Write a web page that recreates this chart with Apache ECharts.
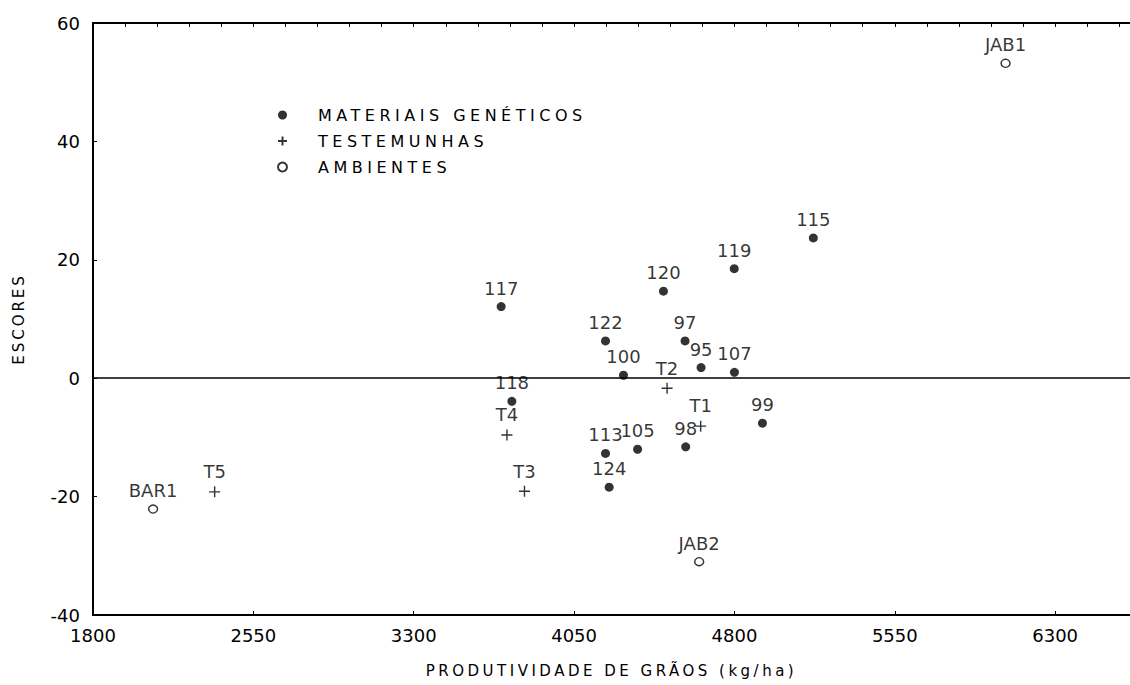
<!DOCTYPE html>
<html>
<head>
<meta charset="utf-8">
<title>Escores x produtividade de grãos</title>
<script src="https://cdn.jsdelivr.net/npm/echarts@6/dist/echarts.min.js"></script>
<style>
    html, body { margin: 0; padding: 0; background: #fff; }
    #scatter_scores { width: 1130px; height: 685px; }
</style>
</head>
<body>
<div id="scatter_scores"></div>
<script>

// Chart data
// ------------------------------

// Materiais genéticos (filled dots)
var genLabels = ['117', '120', '122', '97', '100', '95', '107', '118', '99', '113', '105', '98', '124', '115', '119'];
var genX = [3709, 4468, 4197, 4569, 4281, 4644, 4800, 3759, 4931, 4197, 4347, 4572, 4214, 5169, 4799];
var genY = [12.1, 14.7, 6.3, 6.3, 0.5, 1.8, 1.0, -3.9, -7.6, -12.7, -12.0, -11.6, -18.4, 23.7, 18.5];

// Testemunhas (plus marks)
var testLabels = ['T1', 'T2', 'T3', 'T4', 'T5'];
var testX = [4642, 4485, 3818, 3736, 2369];
var testY = [-8.1, -1.7, -19.1, -9.6, -19.2];

// Ambientes (open circles)
var envLabels = ['BAR1', 'JAB1', 'JAB2'];
var envX = [2081, 6068, 4635];
var envY = [-22.1, 53.2, -31.0];

// Axis ranges
var xRange = [1800, 6650];
var yRange = [-40, 60];

var seriesNames = ['MATERIAIS GENÉTICOS', 'TESTEMUNHAS', 'AMBIENTES'];


// Setup module
// ------------------------------

var EchartsScoresScatter = function() {

    var FONT = '"DejaVu Sans", Arial, sans-serif';
    var INK = '#000';

    // zip x, y and label into scatter points
    var toPoints = function(xs, ys, names) {
        return xs.map(function(x, i) {
            return { name: names[i], value: [x, ys[i]] };
        });
    };

    // plain numbers, no thousands separator
    var plainNumber = function(v) {
        return String(v);
    };

    var pointLabel = {
        show: true,
        position: 'top',
        distance: 5,
        color: INK,
        fontFamily: FONT,
        fontSize: 18,
        formatter: '{b}'
    };

    // wide letter spacing for legend and axis names (svg renderer)
    var spacedTexts = {
        'MATERIAIS GENÉTICOS': '4.5px',
        'TESTEMUNHAS': '4.5px',
        'AMBIENTES': '4.5px',
        'PRODUTIVIDADE DE GRÃOS (kg/ha)': '3.5px',
        'ESCORES': '3px'
    };

    var _scoresScatter = function() {
        if (typeof echarts == 'undefined') {
            console.warn('Warning - echarts.min.js is not loaded.');
            return;
        }

        var scatter_element = document.getElementById('scatter_scores');
        if (!scatter_element) return;

        var scatter_chart = echarts.init(scatter_element, null, { renderer: 'svg' });

        scatter_chart.setOption({
            animation: false,
            backgroundColor: '#fff',

            textStyle: {
                fontFamily: FONT,
                color: INK
            },

            grid: {
                left: 93,
                right: 0,
                top: 23,
                bottom: 70,
                containLabel: false
            },

            legend: {
                data: seriesNames,
                orient: 'vertical',
                left: 272,
                top: 102,
                itemWidth: 9,
                itemHeight: 9,
                itemGap: 10,
                selectedMode: false,
                textStyle: {
                    color: INK,
                    fontFamily: FONT,
                    fontSize: 16,
                    padding: [0, 0, 0, 26]
                }
            },

            // Horizontal axes
            xAxis: [
                {
                    type: 'value',
                    position: 'bottom',
                    min: xRange[0],
                    max: xRange[1],
                    interval: 750,
                    name: 'PRODUTIVIDADE DE GRÃOS (kg/ha)',
                    nameLocation: 'middle',
                    nameGap: 48,
                    nameTextStyle: {
                        color: INK,
                        fontFamily: FONT,
                        fontSize: 15
                    },
                    axisLine: { show: true, onZero: false, lineStyle: { color: '#000', width: 2 } },
                    axisTick: { show: true, inside: true, length: 4, lineStyle: { color: '#000' } },
                    axisLabel: {
                        color: INK,
                        fontFamily: FONT,
                        fontSize: 18,
                        margin: 11,
                        showMaxLabel: false,
                        formatter: plainNumber
                    },
                    splitLine: { show: false }
                },
                {
                    type: 'value',
                    position: 'top',
                    min: xRange[0],
                    max: xRange[1],
                    interval: 150,
                    axisLine: { show: true, onZero: false, lineStyle: { color: '#000', width: 2 } },
                    axisTick: { show: true, inside: true, length: 4, lineStyle: { color: '#000' } },
                    axisLabel: { show: false },
                    splitLine: { show: false }
                }
            ],

            // Vertical axis
            yAxis: [{
                type: 'value',
                min: yRange[0],
                max: yRange[1],
                interval: 20,
                name: 'ESCORES',
                nameLocation: 'middle',
                nameGap: 67,
                nameTextStyle: {
                    color: INK,
                    fontFamily: FONT,
                    fontSize: 15
                },
                axisLine: { show: true, onZero: false, lineStyle: { color: '#000', width: 2 } },
                axisTick: { show: true, inside: true, length: 4, lineStyle: { color: '#000' } },
                axisLabel: {
                    color: INK,
                    fontFamily: FONT,
                    fontSize: 18,
                    margin: 13,
                    formatter: plainNumber
                },
                splitLine: { show: false }
            }],

            // Add series
            series: [
                {
                    name: seriesNames[0],
                    type: 'scatter',
                    z: 2,
                    symbol: 'circle',
                    symbolSize: 9,
                    itemStyle: { color: '#000' },
                    label: pointLabel,
                    data: toPoints(genX, genY, genLabels),
                    markLine: {
                        silent: true,
                        symbol: ['none', 'none'],
                        label: { show: false },
                        lineStyle: { color: '#000', width: 1.5, type: 'solid' },
                        data: [{ yAxis: 0 }]
                    }
                },
                {
                    name: seriesNames[1],
                    type: 'scatter',
                    z: 3,
                    symbol: 'path://M0,5L10,5M5,0L5,10',
                    symbolSize: 11,
                    itemStyle: { color: '#000', borderColor: '#000', borderWidth: 1.4 },
                    label: pointLabel,
                    data: toPoints(testX, testY, testLabels)
                },
                {
                    name: seriesNames[2],
                    type: 'scatter',
                    z: 2,
                    symbol: 'circle',
                    symbolSize: [9, 8],
                    itemStyle: { color: '#fff', borderColor: '#000', borderWidth: 1.4 },
                    label: pointLabel,
                    data: toPoints(envX, envY, envLabels)
                }
            ]
        });

        // spread letters the way the original print does
        var applySpacing = function() {
            var texts = scatter_element.querySelectorAll('text');
            texts.forEach(function(t) {
                var s = spacedTexts[t.textContent];
                if (s) t.style.letterSpacing = s;
            });
        };
        scatter_chart.on('finished', applySpacing);
        applySpacing();
        setTimeout(applySpacing, 50);
    };

    return {
        init: function() {
            _scoresScatter();
        }
    };
}();


// Initialize module
// ------------------------------

document.addEventListener('DOMContentLoaded', function() {
    EchartsScoresScatter.init();
});
</script>
</body>
</html>
